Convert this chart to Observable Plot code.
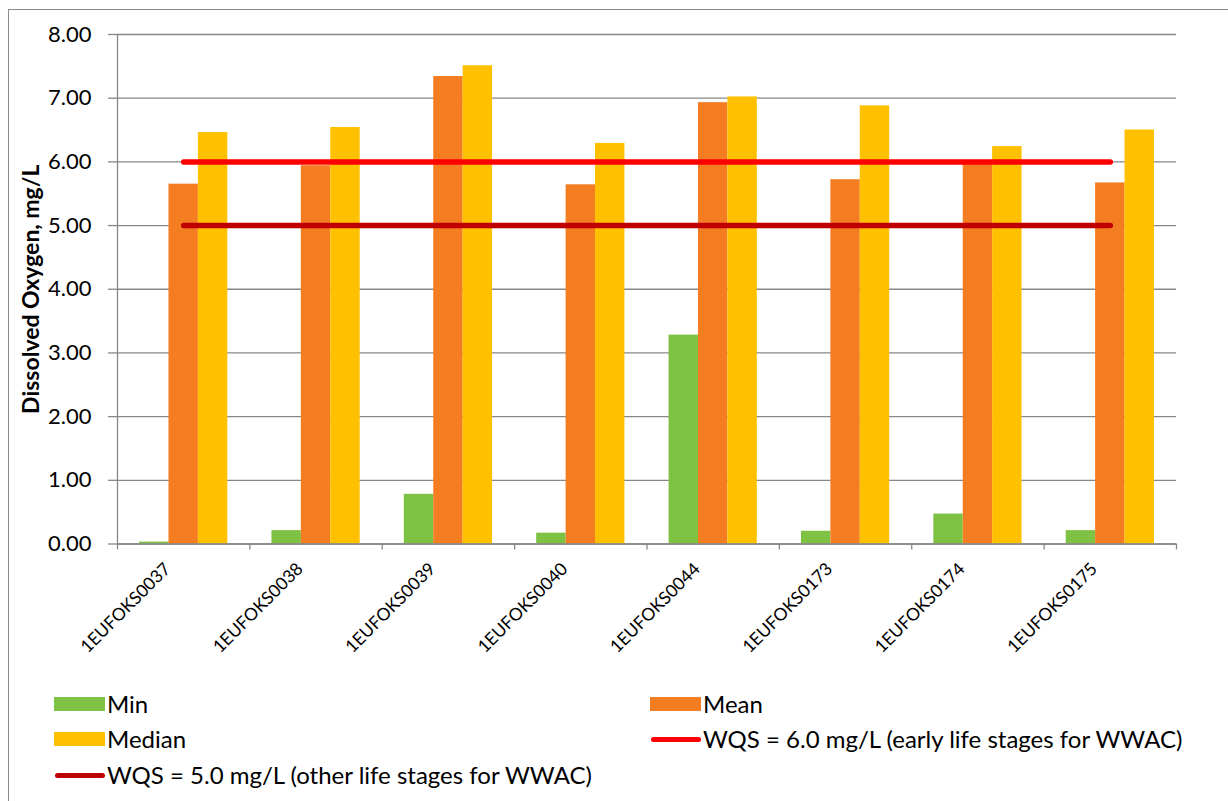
<!DOCTYPE html>
<html><head><meta charset="utf-8">
<script src="https://cdn.jsdelivr.net/npm/d3@7"></script>
<script src="https://cdn.jsdelivr.net/npm/@observablehq/plot@0.6"></script>
<style>
body{margin:0;background:#fff;font-family:Lato,"Open Sans",sans-serif;}
#wrap{position:relative;width:1228px;height:801px;overflow:hidden;background:#fff;}
#frame{position:absolute;left:8px;top:9px;width:1240px;height:820px;border:1px solid #8c8c8c;box-sizing:border-box;}
#chart{position:absolute;left:0;top:0;}
.item{position:absolute;display:flex;align-items:center;font-size:24px;color:#000;white-space:nowrap;line-height:1;}
.sw{width:51px;height:14px;margin-right:2px;}
.ln{width:50px;height:5px;border-radius:3px;margin-right:2px;}
</style></head><body>
<div id="wrap"><div id="frame"></div><div id="chart"></div><div id="legend"></div></div>
<script>
const stations = ["1EUFOKS0037","1EUFOKS0038","1EUFOKS0039","1EUFOKS0040","1EUFOKS0044","1EUFOKS0173","1EUFOKS0174","1EUFOKS0175"];
const minVals = [0.03, 0.21, 0.78, 0.17, 3.28, 0.20, 0.47, 0.21];
const meanVals = [5.65, 5.94, 7.34, 5.64, 6.93, 5.72, 6.01, 5.67];
const medianVals = [6.46, 6.54, 7.51, 6.29, 7.02, 6.88, 6.24, 6.50];
const wqsEarly = 6.0;
const wqsOther = 5.0;
const yTicks = [0, 1, 2, 3, 4, 5, 6, 7, 8];
const seriesNames = ["Min", "Mean", "Median"];
const seriesColors = ["#7DC243", "#F47D22", "#FFC000"];
const lineNames = ["WQS = 6.0 mg/L (early life stages for WWAC)", "WQS = 5.0 mg/L (other life stages for WWAC)"];
const lineColors = ["#FF0000", "#C00000"];
const yLabel = "Dissolved Oxygen, mg/L";

const seriesVals = [minVals, meanVals, medianVals];
const rows = seriesNames.map((name, k) => stations.map((s, i) => ({station: s, series: name, value: seriesVals[k][i]})));
const lineRows = [wqsEarly, wqsOther].map(v => stations.map(s => ({station: s, value: v})));

const W = 1228, H = 690, ml = 117, mr = 52, mt = 34, mb = H - 543.5;
const bw = (W - ml - mr) / stations.length;
const barW = bw * 2 / 9, gap = bw / 6;
const grid = "#878787";

const marks = [
  Plot.gridY(yTicks, {stroke: grid, strokeOpacity: 1, strokeWidth: 1.3}),
  ...rows.map((data, k) => Plot.barY(data, {
    x: "station", y: "value", fill: seriesColors[k],
    insetLeft: gap + k * barW, insetRight: bw - gap - (k + 1) * barW
  })),
  ...lineRows.map((data, k) => Plot.lineY(data, {
    x: "station", y: "value", stroke: lineColors[k], strokeWidth: 5.5, strokeLinecap: "round"
  })),
  Plot.ruleX([stations[0]], {x: d => d, y1: 0, y2: 8, dx: -bw / 2, stroke: grid, strokeWidth: 1.3}),
  Plot.ruleY([0], {stroke: grid, strokeWidth: 1.3}),
  Plot.axisX({ticks: stations, tickSize: 6, text: null, dx: -bw / 2, stroke: grid, strokeWidth: 1.3, label: null}),
  Plot.axisX({ticks: [stations[stations.length - 1]], tickSize: 6, text: null, dx: bw / 2, stroke: grid, strokeWidth: 1.3, label: null}),
  Plot.axisY({ticks: yTicks, tickSize: 9, text: null, stroke: grid, strokeWidth: 1.3, label: null}),
  Plot.axisY({ticks: yTicks, tickSize: 0, tickPadding: 26, tickFormat: d => d.toFixed(2), fontSize: 22, fill: "#000", label: null}),
  Plot.axisX({ticks: stations, tickSize: 0, tickPadding: 22, tickRotate: -45, dx: -16, fontSize: 17.5, fill: "#000", label: null}),
  Plot.text([yLabel], {text: d => d, frameAnchor: "left", rotate: -90, textAnchor: "middle", dx: -86, fontWeight: "bold", fontSize: 23, fill: "#000"})
];

const chart = Plot.plot({
  width: W, height: H,
  marginLeft: ml, marginRight: mr, marginTop: mt, marginBottom: mb,
  style: {fontFamily: "Lato, 'Open Sans', sans-serif", background: "transparent", overflow: "visible"},
  x: {type: "band", domain: stations, padding: 0, round: false, axis: null, label: null},
  y: {domain: [0, 8], axis: null, label: null},
  marks
});
document.getElementById("chart").appendChild(chart);

// Legend (HTML, below the plot area)
const legend = document.getElementById("legend");
const items = [
  {label: seriesNames[0], color: seriesColors[0], kind: "sw", left: 54, top: 704},
  {label: seriesNames[1], color: seriesColors[1], kind: "sw", left: 650, top: 704},
  {label: seriesNames[2], color: seriesColors[2], kind: "sw", left: 54, top: 739},
  {label: lineNames[0], color: lineColors[0], kind: "ln", left: 651, top: 739},
  {label: lineNames[1], color: lineColors[1], kind: "ln", left: 55, top: 775}
];
for (const it of items) {
  const d = document.createElement("div");
  d.className = "item";
  d.style.left = it.left + "px";
  d.style.top = (it.top - 12) + "px";
  d.style.height = "24px";
  const s = document.createElement("span");
  s.className = it.kind;
  s.style.background = it.color;
  const t = document.createElement("span");
  t.textContent = it.label;
  d.appendChild(s); d.appendChild(t);
  legend.appendChild(d);
}
</script>
</body></html>
